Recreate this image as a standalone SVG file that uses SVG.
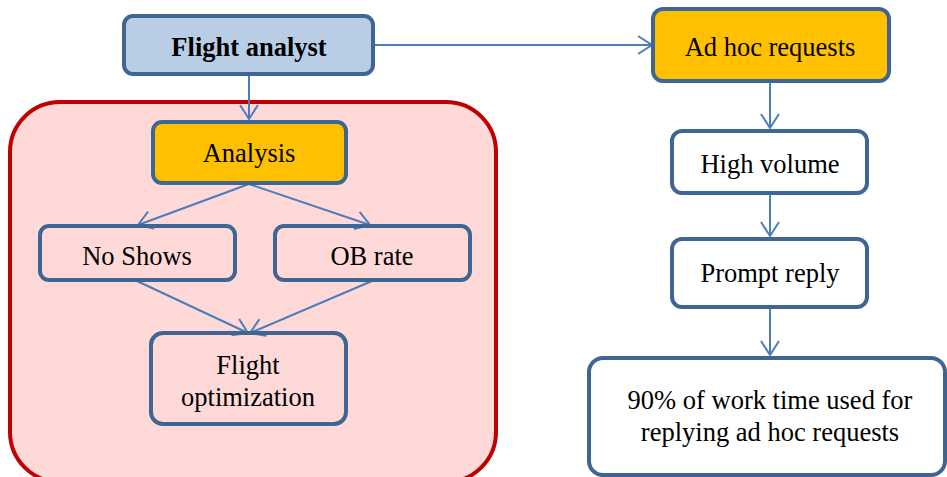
<svg xmlns="http://www.w3.org/2000/svg" width="947" height="477" viewBox="0 0 947 477">
<style>
.node{stroke:#3F6593;stroke-width:4}
.white{fill:#FFFFFF}
.orange{fill:#FFC000}
.blue{fill:#B9CDE5}
.t{font-family:"Liberation Serif","Times New Roman",serif;font-size:26.5px;fill:#000;text-anchor:middle}
.b{font-weight:bold}
.c{stroke:#4A7EBB;stroke-width:2;fill:none;marker-end:url(#ah)}
</style>
<defs>
<marker id="ah" markerUnits="userSpaceOnUse" viewBox="-16 -11 18 22" refX="0" refY="0" markerWidth="18" markerHeight="22" orient="auto">
<path d="M-14,-9 L0,0 L-14,9" fill="none" stroke="#4A7EBB" stroke-width="2"/>
</marker>
</defs>
<rect width="947" height="477" fill="#FFFFFF"/>
<g id="container">
<rect x="10" y="102" width="486" height="380" rx="50" ry="50" fill="#FFD8D8" stroke="#C00000" stroke-width="4"/>
</g>
<g id="connectors">
<line class="c" x1="249" y1="75" x2="249" y2="119"/>
<line class="c" x1="373" y1="45" x2="652" y2="45"/>
<line class="c" x1="249" y1="184" x2="138" y2="225"/>
<line class="c" x1="249" y1="184" x2="370" y2="225"/>
<line class="c" x1="137" y1="281" x2="248" y2="333"/>
<line class="c" x1="372" y1="281" x2="250" y2="333"/>
<line class="c" x1="770" y1="82" x2="770" y2="128"/>
<line class="c" x1="770" y1="193" x2="770" y2="236"/>
<line class="c" x1="770" y1="307" x2="770" y2="355"/>
</g>
<g id="flight-analyst">
<rect class="node blue" x="124" y="16" width="249" height="58" rx="9"/>
<text class="t b" x="249" y="56">Flight analyst</text>
</g>
<g id="analysis">
<rect class="node orange" x="153" y="122" width="193" height="61" rx="9"/>
<text class="t" x="249" y="162">Analysis</text>
</g>
<g id="no-shows">
<rect class="node white" x="40" y="226" width="195" height="54" rx="9" fill-opacity="0"/>
<text class="t" x="137" y="265">No Shows</text>
</g>
<g id="ob-rate">
<rect class="node white" x="275" y="226" width="195" height="54" rx="9" fill-opacity="0"/>
<text class="t" x="372" y="265">OB rate</text>
</g>
<g id="flight-optimization">
<rect class="node white" x="151" y="333" width="195" height="91" rx="12" fill-opacity="0"/>
<text class="t" x="248" y="374">Flight</text>
<text class="t" x="248" y="406">optimization</text>
</g>
<g id="ad-hoc">
<rect class="node orange" x="653" y="9" width="236" height="72" rx="10"/>
<text class="t" x="770" y="56">Ad hoc requests</text>
</g>
<g id="high-volume">
<rect class="node white" x="672" y="131" width="195" height="62" rx="10"/>
<text class="t" x="770" y="173">High volume</text>
</g>
<g id="prompt-reply">
<rect class="node white" x="672" y="239" width="195" height="68" rx="10"/>
<text class="t" x="770" y="282">Prompt reply</text>
</g>
<g id="work-time">
<rect class="node white" x="589" y="358" width="356" height="117" rx="14"/>
<text class="t" x="770" y="409">90% of work time used for</text>
<text class="t" x="770" y="441">replying ad hoc requests</text>
</g>
</svg>
